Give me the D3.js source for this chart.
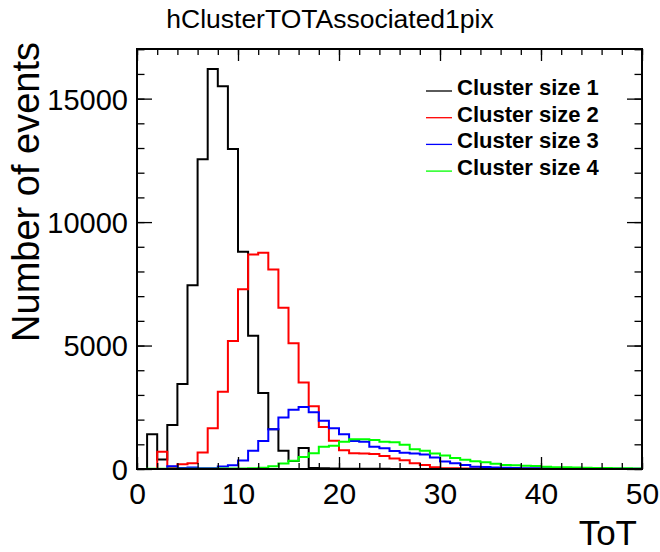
<!DOCTYPE html>
<html>
<head>
<meta charset="utf-8">
<script src="https://cdn.jsdelivr.net/npm/d3@7"></script>
<style>
  html, body { margin: 0; padding: 0; background: #fff; }
  svg { display: block; }
  text { font-family: "Liberation Sans", Arial, Helvetica, sans-serif; fill: #000; }
</style>
</head>
<body>
<svg id="chart" width="660" height="552"></svg>
<script>
// ToT histograms, 50 bins of width 1 on [0, 50)
const binEdges = d3.range(0, 51);

const clusterSize1 = [0, 1410, 380, 1780, 3440, 7440, 12540, 16200, 15500, 12960,
  8800, 5400, 3080, 1610, 742, 320, 850, 40, 30, 20,
  15, 12, 10, 8, 6, 5, 4, 3, 2, 2,
  1, 1, 1, 0, 0, 0, 0, 0, 0, 0,
  0, 0, 0, 0, 0, 0, 0, 0, 0, 0];

const clusterSize2 = [0, 0, 700, 90, 190, 230, 670, 1650, 3130, 5180,
  7280, 8690, 8760, 8080, 6530, 5090, 3500, 2540, 1700, 1140,
  760, 640, 630, 610, 530, 430, 350, 230, 160, 70,
  35, 30, 25, 20, 18, 15, 14, 12, 12, 10,
  10, 10, 9, 8, 5, 4, 3, 3, 2, 2];

const clusterSize3 = [0, 0, 0, 110, 40, 60, 30, 30, 100, 150,
  345, 742, 1130, 1610, 2090, 2400, 2510, 2295, 1950, 1647,
  1404, 1134, 1107, 904, 837, 730, 660, 630, 590, 470,
  300, 230, 160, 95, 80, 60, 55, 45, 35, 32,
  30, 30, 28, 25, 18, 15, 14, 12, 10, 10];

const clusterSize4 = [5, 8, 10, 12, 12, 15, 15, 15, 18, 20,
  25, 30, 55, 115, 220, 335, 490, 634, 904, 945,
  1107, 1200, 1200, 1174, 1107, 1080, 980, 800, 735, 630,
  545, 450, 375, 315, 275, 215, 165, 150, 130, 120,
  95, 75, 68, 62, 50, 45, 40, 35, 30, 25];

const seriesNames = ["Cluster size 1", "Cluster size 2", "Cluster size 3", "Cluster size 4"];
const seriesColors = ["#000000", "#ff0000", "#0000ff", "#00ff00"];
const seriesValues = [clusterSize1, clusterSize2, clusterSize3, clusterSize4];

const xMajorTicks = [0, 10, 20, 30, 40, 50];
const xMinorTicks = d3.range(0, 51, 2);
const yMajorTicks = [0, 5000, 10000, 15000];
const yMinorTicks = d3.range(0, 17001, 1000);

const titleText = "hClusterTOTAssociated1pix";
const xTitle = "ToT";
const yTitle = "Number of events";

// frame of the plotting area
const frame = { left: 137, right: 642, top: 49, bottom: 469 };

const svg = d3.select("#chart");

const x = d3.scaleLinear()
  .domain([binEdges[0], binEdges[binEdges.length - 1]])
  .range([frame.left, frame.right]);

const yMax = 1.05 * d3.max(seriesValues.flat());
const y = d3.scaleLinear()
  .domain([0, yMax])
  .range([frame.bottom, frame.top]);

svg.append("defs").append("clipPath").attr("id", "plotClip")
  .append("rect")
  .attr("x", frame.left).attr("y", frame.top)
  .attr("width", frame.right - frame.left)
  .attr("height", frame.bottom - frame.top);

// histogram outlines, drawn as steps starting and ending on the baseline
const line = d3.line().x(d => x(d[0])).y(d => y(d[1]));
function outline(values) {
  const pts = [[binEdges[0], 0]];
  values.forEach((v, i) => {
    pts.push([binEdges[i], v]);
    pts.push([binEdges[i + 1], v]);
  });
  pts.push([binEdges[binEdges.length - 1], 0]);
  return pts;
}

const plot = svg.append("g").attr("clip-path", "url(#plotClip)");
seriesValues.forEach((vals, k) => {
  plot.append("path")
    .attr("d", line(outline(vals)))
    .attr("fill", "none")
    .attr("stroke", seriesColors[k])
    .attr("stroke-width", 2)
    .attr("stroke-linejoin", "miter");
});

// axes: ticks point inwards on all four sides
function styleAxis(g) {
  g.select(".domain").remove();
  g.selectAll(".tick line").attr("stroke", "#000").attr("stroke-width", 1.3);
}

svg.append("g")
  .attr("transform", `translate(0,${frame.bottom})`)
  .call(d3.axisBottom(x).tickValues(xMinorTicks).tickSize(-6).tickFormat(""))
  .call(styleAxis);
svg.append("g")
  .attr("transform", `translate(0,${frame.bottom})`)
  .call(d3.axisBottom(x).tickValues(xMajorTicks).tickSize(-12).tickFormat(d3.format("d")))
  .call(styleAxis)
  .call(g => g.selectAll(".tick text")
    .attr("font-size", 30)
    .attr("font-family", "'Liberation Sans', Arial, sans-serif")
    .attr("y", 14).attr("dy", "0.71em"));

svg.append("g")
  .attr("transform", `translate(0,${frame.top})`)
  .call(d3.axisTop(x).tickValues(xMinorTicks).tickSize(-6).tickFormat(""))
  .call(styleAxis);
svg.append("g")
  .attr("transform", `translate(0,${frame.top})`)
  .call(d3.axisTop(x).tickValues(xMajorTicks).tickSize(-12).tickFormat(""))
  .call(styleAxis);

svg.append("g")
  .attr("transform", `translate(${frame.left},0)`)
  .call(d3.axisLeft(y).tickValues(yMinorTicks.filter(v => v <= yMax)).tickSize(-7.5).tickFormat(""))
  .call(styleAxis);
svg.append("g")
  .attr("transform", `translate(${frame.left},0)`)
  .call(d3.axisLeft(y).tickValues(yMajorTicks).tickSize(-15).tickFormat(d3.format("d")))
  .call(styleAxis)
  .call(g => g.selectAll(".tick text")
    .attr("font-size", 29)
    .attr("font-family", "'Liberation Sans', Arial, sans-serif")
    .attr("x", -9).attr("dy", "0.36em"));

svg.append("g")
  .attr("transform", `translate(${frame.right},0)`)
  .call(d3.axisRight(y).tickValues(yMinorTicks.filter(v => v <= yMax)).tickSize(-7.5).tickFormat(""))
  .call(styleAxis);
svg.append("g")
  .attr("transform", `translate(${frame.right},0)`)
  .call(d3.axisRight(y).tickValues(yMajorTicks).tickSize(-15).tickFormat(""))
  .call(styleAxis);

// frame
svg.append("rect")
  .attr("x", frame.left).attr("y", frame.top)
  .attr("width", frame.right - frame.left)
  .attr("height", frame.bottom - frame.top)
  .attr("fill", "none").attr("stroke", "#000").attr("stroke-width", 2);

// titles
svg.append("text")
  .attr("x", 330).attr("y", 28)
  .attr("text-anchor", "middle")
  .attr("font-size", 26.5)
  .text(titleText);

svg.append("text")
  .attr("x", frame.right - 5).attr("y", 545)
  .attr("text-anchor", "end")
  .attr("font-size", 35)
  .text(xTitle);

svg.append("text")
  .attr("transform", `translate(39,${frame.top - 7}) rotate(-90)`)
  .attr("text-anchor", "end")
  .attr("font-size", 38)
  .text(yTitle);

// legend
const legend = svg.append("g");
seriesNames.forEach((name, k) => {
  const base = 95 + k * 26.7;
  legend.append("line")
    .attr("x1", 426).attr("x2", 452)
    .attr("y1", base - 4).attr("y2", base - 4)
    .attr("stroke", seriesColors[k]).attr("stroke-width", 1.3);
  legend.append("text")
    .attr("x", 457).attr("y", base)
    .attr("font-size", 22).attr("font-weight", "bold")
    .text(name);
});
</script>
</body>
</html>
